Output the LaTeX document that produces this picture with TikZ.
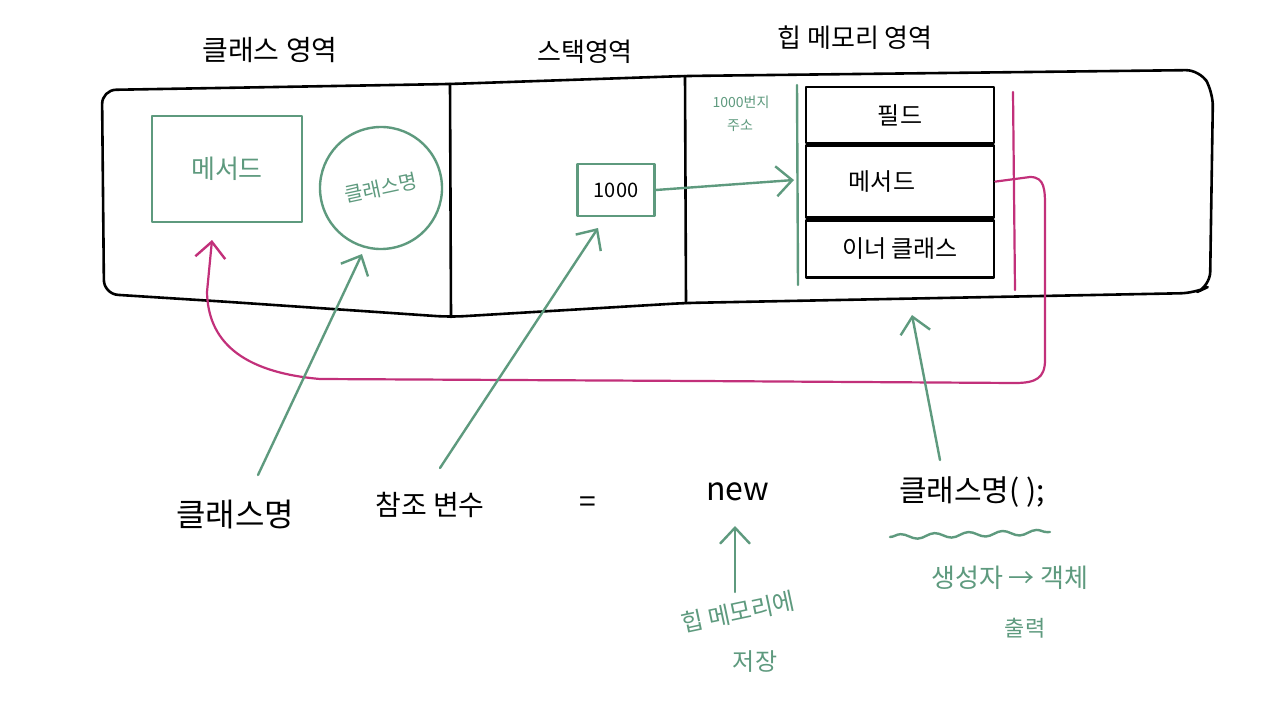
\documentclass[tikz,border=0pt]{standalone}
\usepackage{fontspec}
\newfontfamily\kr{Noto Sans CJK KR}
\usetikzlibrary{arrows.meta,decorations.pathmorphing}
\definecolor{gr}{HTML}{5E9A7E}
\definecolor{mg}{HTML}{C2307A}
\begin{document}
\begin{tikzpicture}[x=1pt,y=-1pt, line cap=round, line join=round,
 blk/.style={draw=black,line width=2.6pt},
 grn/.style={draw=gr,line width=2.4pt},
 mag/.style={draw=mg,line width=2.2pt},
 barb/.style={-{Straight Barb[length=16pt,width=30pt,line width=2.4pt]}},
 lbl/.style={font=\kr\fontsize{#1}{#1}\selectfont, text=black, inner sep=0pt},
 glbl/.style={font=\kr\fontsize{#1}{#1}\selectfont, text=gr, inner sep=0pt},
 cell/.style={blk, rectangle, minimum width=188pt, inner sep=0pt, font=\kr\fontsize{24}{24}\selectfont}]
\path[use as bounding box, fill=white] (0,0) rectangle (1280,720);

% outer memory box
\draw[blk, rounded corners=14pt] (102,90) -- (450,84) -- (685,76) -- (1200,70) -- (1213,92)
  -- (1210,286) -- (1195,293) -- (685,303) -- (450,317) -- (230,302) -- (104,294) -- cycle;
\draw[blk] (450,84) -- (451,317);
\draw[blk] (685,76) -- (686,303);

% titles
\node[lbl=28] (tclass) at (270,50) {클래스 영역};
\node[lbl=26] (tstack) at (585,52) {스택영역};
\node[lbl=26] (theap) at (855,38) {힙 메모리 영역};

% class area
\node[grn, rectangle, minimum width=150pt, minimum height=106pt, glbl=26] (methbox) at (227,169) {메서드};
\node[grn, circle, minimum size=122pt, glbl=20, rotate=12] (clscirc) at (381,188) {클래스명};

% stack area
\node[grn, rectangle, minimum width=77pt, minimum height=52pt, lbl=20] (ref) at (616,190) {1000};

% heap area
\node[glbl=14] (addr1) at (741,102) {1000번지};
\node[glbl=14] (addr2) at (740,126) {주소};
\draw[grn] (797,85) -- (798,285);
\coordinate (addrtip) at (794,180);
\draw[grn, barb] (ref.east) -- (addrtip);

\node[cell, minimum height=56pt] (field) at (900,115) {필드};
\node[cell, minimum height=72pt, anchor=north] (meth2) at (field.south) {\hspace*{-36pt}메서드};
\node[cell, minimum height=57pt, anchor=north] (inner) at (meth2.south) {이너 클래스};

\draw[mag] (1013,92) -- (1015,290);
\coordinate (methin) at (212,240);
\draw[mag, barb] (meth2.east) -- (1030,177) .. controls (1045,177) and (1045,190) .. (1045,208)
  -- (1045,360) .. controls (1045,378) and (1036,383) .. (1015,383) -- (700,381) -- (320,379)
  .. controls (240,372) and (208,340) .. (207,292) -- (methin);

% bottom expression
\node[lbl=32] (bcls) at (235,515) {클래스명};
\node[lbl=28] (bref) at (430,505) {참조 변수};
\node[lbl=30] (beq) at (588,505) {=};
\node[lbl=32] (bnew) at (738,492) {new};
\node[lbl=30] (bctor) at (972,492) {클래스명( );};

\coordinate (s1) at (258,475);
\coordinate (s2) at (440,468);
\coordinate (s3) at (940,460);
\coordinate (t1) at (362,254);
\coordinate (t2) at (598,228);
\coordinate (t3) at (912,315);
\draw[grn, barb] (s1) -- (t1);
\draw[grn, barb] (s2) -- (t2);
\draw[grn, barb] (s3) -- (t3);

\draw[grn, decorate, decoration={snake, segment length=34pt, amplitude=2.5pt}] (890,537) -- (1050,532);

\coordinate (s4) at (735,592);
\coordinate (t4) at (735,526);
\draw[grn, barb] (s4) -- (t4);
\node[glbl=24, rotate=12] (heapsave) at (738,612) {힙 메모리에};
\node[glbl=24] (save) at (755,662) {저장};

\node[glbl=26] (ctorobj) at (1010,578) {생성자 → 객체};
\node[glbl=22] (out) at (1025,628) {출력};
\end{tikzpicture}
\end{document}
